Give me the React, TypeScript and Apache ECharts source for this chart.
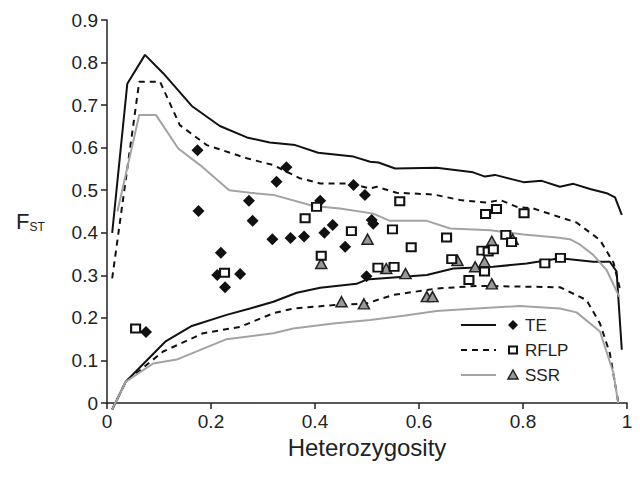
import React, { useEffect, useRef } from "react";
import * as echarts from "echarts";

// Envelope lines [heterozygosity, FST]
const teUpper = [
  [0.01, 0.4], [0.039, 0.75], [0.073, 0.818], [0.108, 0.775], [0.163, 0.698], [0.217, 0.651],
  [0.269, 0.624], [0.313, 0.612], [0.362, 0.606], [0.406, 0.588], [0.474, 0.579], [0.506, 0.567],
  [0.522, 0.565], [0.554, 0.551], [0.634, 0.553], [0.704, 0.542], [0.727, 0.532], [0.746, 0.536],
  [0.801, 0.519], [0.836, 0.522], [0.871, 0.508], [0.897, 0.515], [0.929, 0.503], [0.961, 0.493],
  [0.977, 0.483], [0.99, 0.442],
];
const teLower = [
  [0.01, -0.015], [0.036, 0.05], [0.112, 0.144], [0.163, 0.181], [0.23, 0.207], [0.275, 0.222],
  [0.32, 0.238], [0.365, 0.259], [0.41, 0.271], [0.48, 0.28], [0.499, 0.29], [0.551, 0.295],
  [0.615, 0.301], [0.666, 0.316], [0.743, 0.32], [0.807, 0.328], [0.871, 0.34], [0.935, 0.332],
  [0.967, 0.332], [0.98, 0.309], [0.99, 0.125],
];
const rflpUpper = [
  [0.01, 0.293], [0.062, 0.755], [0.102, 0.755], [0.14, 0.653], [0.192, 0.606], [0.269, 0.575],
  [0.32, 0.559], [0.371, 0.528], [0.41, 0.516], [0.467, 0.516], [0.506, 0.504], [0.519, 0.508],
  [0.557, 0.494], [0.628, 0.49], [0.679, 0.477], [0.73, 0.471], [0.756, 0.477], [0.788, 0.461],
  [0.82, 0.457], [0.903, 0.424], [0.948, 0.383], [0.974, 0.33], [0.986, 0.27],
];
const rflpLower = [
  [0.01, -0.015], [0.036, 0.05], [0.108, 0.121], [0.185, 0.164], [0.256, 0.179], [0.32, 0.211],
  [0.358, 0.222], [0.435, 0.23], [0.499, 0.234], [0.551, 0.254], [0.634, 0.269], [0.711, 0.275],
  [0.775, 0.274], [0.871, 0.272], [0.922, 0.242], [0.948, 0.187], [0.967, 0.117], [0.983, 0.003],
];
const ssrUpper = [
  [0.02, 0.45], [0.062, 0.677], [0.094, 0.677], [0.137, 0.598], [0.179, 0.559], [0.235, 0.5],
  [0.275, 0.494], [0.32, 0.489], [0.397, 0.463], [0.448, 0.457], [0.512, 0.445], [0.544, 0.428],
  [0.615, 0.428], [0.66, 0.41], [0.737, 0.406], [0.801, 0.396], [0.865, 0.389], [0.89, 0.385],
  [0.91, 0.372], [0.935, 0.348], [0.961, 0.312], [0.985, 0.25],
];
const ssrLower = [
  [0.01, -0.015], [0.036, 0.05], [0.089, 0.093], [0.134, 0.102], [0.23, 0.15], [0.32, 0.164],
  [0.358, 0.175], [0.435, 0.187], [0.506, 0.195], [0.57, 0.205], [0.634, 0.216], [0.679, 0.22],
  [0.794, 0.228], [0.871, 0.222], [0.903, 0.213], [0.948, 0.168], [0.974, 0.07], [0.983, 0.0],
];

// Observed loci
const tePoints = [
  [0.075, 0.167], [0.174, 0.594], [0.176, 0.451], [0.212, 0.301], [0.219, 0.353], [0.227, 0.272],
  [0.256, 0.303], [0.273, 0.475], [0.28, 0.428], [0.318, 0.385], [0.326, 0.52], [0.345, 0.554],
  [0.353, 0.388], [0.379, 0.391], [0.41, 0.475], [0.418, 0.4], [0.434, 0.418], [0.458, 0.367],
  [0.474, 0.512], [0.496, 0.489], [0.509, 0.43], [0.512, 0.421], [0.499, 0.298],
];
const rflpPoints = [
  [0.055, 0.175], [0.226, 0.306], [0.381, 0.434], [0.403, 0.461], [0.412, 0.346], [0.47, 0.404],
  [0.521, 0.318], [0.552, 0.32], [0.549, 0.408], [0.563, 0.474], [0.585, 0.366], [0.653, 0.389],
  [0.663, 0.338], [0.696, 0.289], [0.721, 0.358], [0.726, 0.309], [0.733, 0.356], [0.743, 0.361],
  [0.728, 0.444], [0.749, 0.456], [0.767, 0.395], [0.778, 0.378], [0.802, 0.446], [0.842, 0.328],
  [0.872, 0.341],
];
const ssrPoints = [
  [0.412, 0.328], [0.451, 0.238], [0.494, 0.233], [0.501, 0.385], [0.537, 0.316], [0.574, 0.304],
  [0.615, 0.25], [0.626, 0.25], [0.674, 0.335], [0.708, 0.32], [0.726, 0.332], [0.74, 0.38],
  [0.74, 0.28], [0.78, 0.385],
];

const legendNames = ["TE", "RFLP", "SSR"];
const FONT = "Liberation Sans, Arial, Helvetica, sans-serif";
const GRAY = "#a3a3a3";

export default function App() {
  const ref = useRef<HTMLDivElement>(null);
  useEffect(() => {
    if (!ref.current) return;
    const chart = echarts.init(ref.current, null, { renderer: "svg" });
    const lineBase = { type: "line", showSymbol: false, symbol: "none", clip: false, z: 2, silent: true };
    const lx0 = 461, lx1 = 496, mx = 513, tx = 525;
    const rows = [325, 350, 375];
    chart.setOption({
      animation: false,
      backgroundColor: "#fff",
      grid: { left: 107, right: 13, top: 20, bottom: 74 },
      xAxis: {
        type: "value", min: 0, max: 1, interval: 0.2,
        splitLine: { show: false },
        axisLine: { lineStyle: { color: "#222", width: 1.5 } },
        axisTick: { show: true, length: 6, lineStyle: { color: "#222", width: 1.5 } },
        axisLabel: { color: "#222", fontSize: 19, fontFamily: FONT, margin: 9 },
        name: "Heterozygosity", nameLocation: "middle", nameGap: 21,
        nameTextStyle: { color: "#222", fontSize: 24, fontFamily: FONT },
      },
      yAxis: {
        type: "value", min: 0, max: 0.9, interval: 0.1,
        splitLine: { show: false },
        axisLine: { show: true, lineStyle: { color: "#222", width: 1.5 } },
        axisTick: { show: true, length: 6, lineStyle: { color: "#222", width: 1.5 } },
        axisLabel: { color: "#222", fontSize: 19, fontFamily: FONT, margin: 9 },
      },
      graphic: [
        {
          type: "text", left: 16, top: 210,
          style: {
            text: "{f|F}{s|ST}",
            rich: {
              f: { fontSize: 22, fontFamily: FONT, fill: "#222" },
              s: { fontSize: 12, fontFamily: FONT, fill: "#222", padding: [12, 0, 0, 0] },
            },
          },
        },
        { type: "line", shape: { x1: lx0, y1: rows[0], x2: lx1, y2: rows[0] }, style: { stroke: "#111", lineWidth: 2 } },
        { type: "line", shape: { x1: lx0, y1: rows[1], x2: lx1, y2: rows[1] }, style: { stroke: "#111", lineWidth: 2, lineDash: [6, 5] } },
        { type: "line", shape: { x1: lx0, y1: rows[2], x2: lx1, y2: rows[2] }, style: { stroke: GRAY, lineWidth: 2 } },
        {
          type: "polygon",
          shape: { points: [[mx, rows[0] - 5], [mx + 5, rows[0]], [mx, rows[0] + 5], [mx - 5, rows[0]]] },
          style: { fill: "#111" },
        },
        { type: "rect", shape: { x: mx - 4, y: rows[1] - 3.5, width: 8, height: 7 }, style: { fill: "#fff", stroke: "#111", lineWidth: 2 } },
        {
          type: "polygon",
          shape: { points: [[mx, rows[2] - 5], [mx + 5, rows[2] + 4], [mx - 5, rows[2] + 4]] },
          style: { fill: "#999", stroke: "#222", lineWidth: 1.5 },
        },
        ...legendNames.map((n, i) => ({
          type: "text", x: tx, y: rows[i],
          style: { text: n, fontSize: 17, fontFamily: FONT, fill: "#222", verticalAlign: "middle", align: "left" },
        })),
      ],
      series: [
        { ...lineBase, name: "TE upper", data: teUpper, lineStyle: { color: "#111", width: 2 } },
        { ...lineBase, name: "TE lower", data: teLower, lineStyle: { color: "#111", width: 2 } },
        { ...lineBase, name: "RFLP upper", data: rflpUpper, lineStyle: { color: "#111", width: 2, type: [6, 5] } },
        { ...lineBase, name: "RFLP lower", data: rflpLower, lineStyle: { color: "#111", width: 2, type: [6, 5] } },
        { ...lineBase, name: "SSR upper", data: ssrUpper, lineStyle: { color: GRAY, width: 2 } },
        { ...lineBase, name: "SSR lower", data: ssrLower, lineStyle: { color: GRAY, width: 2 } },
        {
          type: "scatter", name: "TE", data: tePoints, symbol: "diamond", symbolSize: 12, z: 3,
          itemStyle: { color: "#111", opacity: 1 },
        },
        {
          type: "scatter", name: "SSR", data: ssrPoints, symbol: "triangle", symbolSize: [11, 10], z: 4,
          itemStyle: { color: "#999", borderColor: "#222", borderWidth: 1.5, opacity: 1 },
        },
        {
          type: "scatter", name: "RFLP", data: rflpPoints, symbol: "rect", symbolSize: [9, 8], z: 5,
          itemStyle: { color: "#fff", borderColor: "#111", borderWidth: 2, opacity: 1 },
        },
      ],
    });
    return () => chart.dispose();
  }, []);
  return <div ref={ref} style={{ width: 640, height: 477, position: "absolute", left: 0, top: 0 }} />;
}
